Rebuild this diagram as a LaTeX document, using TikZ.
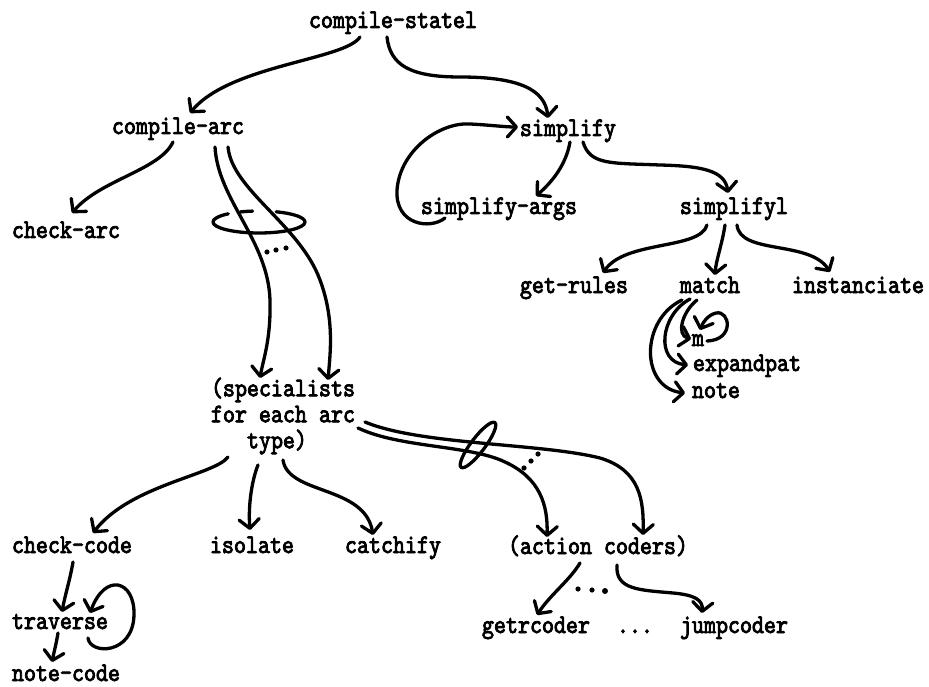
\documentclass[tikz,border=0pt]{standalone}
\usepackage{fontspec}
\setmonofont{lmmono10-regular.otf}[FakeBold=3,FakeStretch=0.85]
\usetikzlibrary{arrows.meta,calc}
\begin{document}
\begin{tikzpicture}[x=1pt,y=-1pt,
  lbl/.style={font=\ttfamily\fontsize{26.9}{26}\selectfont, inner sep=0pt, text height=17pt, text depth=5pt},
  lblm/.style={font=\ttfamily\fontsize{26.9}{26}\selectfont, inner sep=0pt, align=left},
  con/.style={line width=3.3pt, line cap=round, -{Straight Barb[length=9pt,width=20pt,round]}},
  plain/.style={line width=3.3pt, line cap=round}]
\useasboundingbox (0,0) rectangle (929,687);

% nodes
\node[lbl] (cs) at (393,22) {compile-statel};
\node[lbl] (ca) at (178,128) {compile-arc};
\node[lbl] (sy) at (568,130) {simplify};
\node[lbl] (chk) at (66,232) {check-arc};
\node[lbl] (sa) at (499,208) {simplify-args};
\node[lbl] (s1) at (734,208) {simplifyl};
\node[lbl] (gr) at (574,287) {get-rules};
\node[lbl] (ma) at (710,287) {match};
\node[lbl] (in) at (858,287) {instanciate};
\node[lbl] (m) at (698,340) {m};
\node[lbl] (ex) at (747,365) {expandpat};
\node[lbl] (no) at (716,392) {note};
\node[lblm] (sp) at (283,416) {(specialists\\for each arc\\\hspace*{36pt}type)};
\node[lbl] (cc) at (72,547) {check-code};
\node[lbl] (is) at (252,547) {isolate};
\node[lbl] (ct) at (393,547) {catchify};
\node[lbl] (ac) at (598,548) {(action coders)};
\node[lbl] (tr) at (60,623) {traverse};
\node[lbl, text depth=3pt] (nc) at (66,674) {note-code};
\node[lbl] (gt) at (536,627) {getrcoder};
\node[lbl] (dd) at (635,627) {...};
\node[lbl] (jc) at (734,627) {jumpcoder};

% connectors
\draw[con] ($(cs)+(-33,15)$) .. controls (345,60) and (230,65) .. ($(ca)+(12,-15)$);
\draw[con] ($(cs)+(-6,15)$) .. controls (390,65) and (410,77) .. (460,77)
   .. controls (520,77) and (545,90) .. ($(sy)+(-20,-12)$);
\draw[con] ($(ca)+(-5,14)$) .. controls (160,170) and (100,180) .. ($(chk)+(6,-19)$);
\draw[con] ($(ca)+(37,19)$) .. controls (218,200) and (268,240) .. (270,300)
   .. controls (271,340) and (263,360) .. ($(sp)+(-23,-38)$);
\draw[con] ($(ca)+(50,19)$) .. controls (232,190) and (300,225) .. (320,280)
   .. controls (335,320) and (330,355) .. ($(sp)+(45,-36)$);
% ring around the arcs
\draw[plain] (213,222) arc[start angle=180,end angle=0,x radius=46,y radius=11];
\draw[plain] (213,222) arc[start angle=180,end angle=228,x radius=46,y radius=11];
\draw[plain] (240.3,211.95) arc[start angle=246,end angle=262,x radius=46,y radius=11];
\draw[plain] (276.2,211.8) arc[start angle=292,end angle=360,x radius=46,y radius=11];
\fill (267,252) circle[radius=2.6pt] (276,250) circle[radius=2.6pt] (286,248) circle[radius=2.6pt];

\draw[con] ($(sy)+(2,12)$) .. controls (566,165) and (552,182) .. ($(sa)+(37,-12)$);
\draw[con] ($(sa)+(-54,10)$) .. controls (430,230) and (395,225) .. (397,190)
   .. controls (400,150) and (440,122) .. (470,124)
   .. controls (490,125) and (505,127) .. ($(sy)+(-50,-3)$);
\draw[con] ($(sy)+(15,12)$) .. controls (590,165) and (610,163) .. (660,165)
   .. controls (700,166) and (725,170) .. ($(s1)+(-6,-15)$);
\draw[con] ($(s1)+(-27,17)$) .. controls (700,250) and (625,240) .. ($(gr)+(29,-14)$);
\draw[con] ($(s1)+(-9,17)$) .. controls (722,245) and (716,260) .. ($(ma)+(5,-12)$);
\draw[con] ($(s1)+(3,17)$) .. controls (740,255) and (810,240) .. ($(in)+(-28,-15)$);

\draw[con] ($(ma)+(-13,13)$) .. controls (682,312) and (676,335) .. ($(m)+(-7,-1)$);
\draw[con] ($(ma)+(-20,12)$) .. controls (660,315) and (655,362) .. ($(ex)+(-59,0)$);
\draw[con] ($(ma)+(-28,13)$) .. controls (640,320) and (640,388) .. ($(no)+(-31,1)$);
\draw[con] ($(m)+(9,1)$) .. controls (735,340) and (730,310) .. (716,313)
   .. controls (708,315) and (703,322) .. ($(m)+(2,-10)$);

\draw[con] ($(sp)+(-55,41)$) .. controls (215,475) and (130,485) .. ($(cc)+(21,-14)$);
\draw[con] ($(sp)+(-25,49)$) .. controls (252,480) and (248,505) .. ($(is)+(-2,-17)$);
\draw[con] ($(sp)+(0,44)$) .. controls (288,495) and (365,485) .. ($(ct)+(-20,-12)$);
\draw[con] ($(sp)+(82,6)$) .. controls (420,445) and (540,443) .. (600,458)
   .. controls (640,470) and (644,500) .. ($(ac)+(45,-13)$);
\draw[con] ($(sp)+(75,12)$) .. controls (400,448) and (470,445) .. (505,462)
   .. controls (540,478) and (548,505) .. ($(ac)+(-51,-11)$);
\draw[plain, rotate around={53:(478,445)}] (478,445) ellipse[x radius=28, y radius=7];
\fill (524,468) circle[radius=2.6pt] (531,461) circle[radius=2.6pt] (538,454) circle[radius=2.6pt];

\draw[con] ($(ac)+(-18,15)$) .. controls (570,580) and (550,595) .. ($(gt)+(1,-12)$);
\fill (578,589) circle[radius=2.6pt] (592,590) circle[radius=2.6pt] (605,591) circle[radius=3pt];
\draw[con] ($(ac)+(19,17)$) .. controls (615,590) and (640,590) .. (673,593)
   .. controls (695,595) and (703,600) .. ($(jc)+(-32,-14)$);

\draw[con] ($(cc)+(1,15)$) .. controls (70,580) and (65,595) .. ($(tr)+(2,-11)$);
\draw[con] ($(tr)+(28,15)$) .. controls (90,655) and (133,655) .. (134,615)
   .. controls (135,580) and (105,572) .. ($(tr)+(30,-10)$);
\draw[con] ($(tr)+(-2,10)$) .. controls (56,645) and (54,652) .. ($(nc)+(-14,-12)$);
\end{tikzpicture}
\end{document}
